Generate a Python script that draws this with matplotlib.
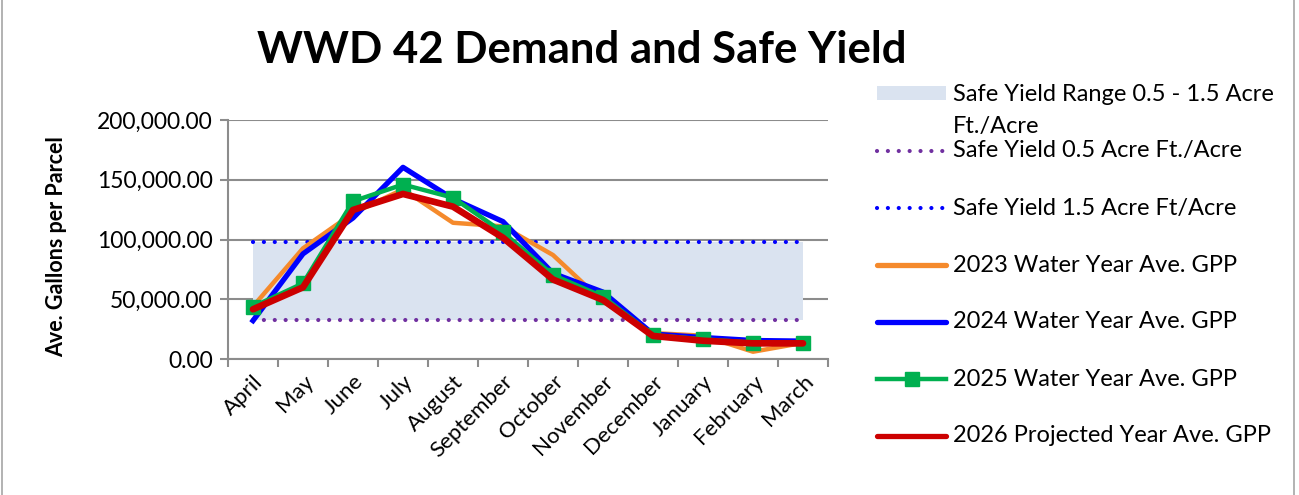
import numpy as np
import matplotlib; matplotlib.use("Agg"); import matplotlib.pyplot as plt
from matplotlib.lines import Line2D
from matplotlib.patches import Rectangle
from matplotlib.ticker import FuncFormatter, FixedLocator

plt.rcParams["font.family"] = ["Lato", "DejaVu Sans"]

MONTHS = ["April", "May", "June", "July", "August", "September", "October",
          "November", "December", "January", "February", "March"]
gpp_2023 = [44000, 92600, 122000, 142000, 114000, 111000, 87000, 48000, 21700, 19500, 6100, 13500]
gpp_2024 = [32100, 88000, 118000, 160400, 134000, 115000, 71700, 56000, 20900, 18000, 15500, 15000]
gpp_2025 = [43800, 63300, 132000, 146000, 135000, 106000, 70300, 52200, 20000, 16500, 13700, 13700]
gpp_2026 = [41600, 60000, 124700, 138100, 127500, 101500, 66500, 49400, 19300, 15300, 13100, 13100]
SAFE_LOW = 32585    # 0.5 acre ft / acre
SAFE_HIGH = 97755   # 1.5 acre ft / acre

W, H = 1299, 495
fig = plt.figure(figsize=(W / 100, H / 100), dpi=100)
ax = fig.add_axes([228 / W, 1 - 359 / H, 600 / W, 239 / H])

x = np.arange(len(MONTHS))
GRID = "#8c8c8c"
dot = (0, (0.01, 2.6))

ax.fill_between(x, SAFE_LOW, SAFE_HIGH, color="#dae3f0", lw=0, zorder=1)
ax.plot(x, [SAFE_LOW] * len(x), color="#7030a0", lw=3, ls=dot, dash_capstyle="round", zorder=2)
ax.plot(x, [SAFE_HIGH] * len(x), color="#0000ff", lw=3, ls=dot, dash_capstyle="round", zorder=2)
ax.plot(x, gpp_2023, color="#f58a2c", lw=3.2, zorder=3)
ax.plot(x, gpp_2024, color="#0000ff", lw=3.8, zorder=4)
ax.plot(x, gpp_2025, color="#00b050", lw=3.2, marker="s", ms=10, zorder=5)
ax.plot(x, gpp_2026, color="#cc0000", lw=4.8, zorder=6, solid_capstyle="round", solid_joinstyle="round")

ax.set_xlim(-0.5, len(MONTHS) - 0.5)
ax.set_ylim(0, 200000)
ax.set_yticks(np.arange(0, 200001, 50000))
ax.yaxis.set_major_formatter(FuncFormatter(lambda v, p: f"{v:,.2f}"))
ax.grid(axis="y", color=GRID, lw=1.5, zorder=0)
ax.set_axisbelow(True)
for s in ["top", "right"]:
    ax.spines[s].set_visible(False)
for s in ["left", "bottom"]:
    ax.spines[s].set_color(GRID); ax.spines[s].set_linewidth(1.5)
ax.tick_params(axis="y", length=6, width=1.5, color=GRID, labelsize=16.5, pad=5)
ax.xaxis.set_major_locator(FixedLocator(np.arange(-0.5, len(MONTHS), 1.0)))
ax.xaxis.set_minor_locator(FixedLocator(x))
ax.set_xticklabels([])
ax.set_xticklabels(MONTHS, minor=True, rotation=45, ha="right", rotation_mode="anchor", fontsize=16)
ax.tick_params(axis="x", which="major", length=6, width=1.5, color=GRID)
ax.tick_params(axis="x", which="minor", length=0, pad=9)

ax.set_ylabel("Ave. Gallons per Parcel", fontsize=15.5, fontweight="bold")
ax.yaxis.set_label_coords((67 - 228) / 600, 0.47)
fig.text(582 / W, 1 - 50 / H, "WWD 42 Demand and Safe Yield", fontsize=31.5, fontweight="bold",
         ha="center", va="center")

# legend drawn by hand (first entry wraps onto two lines)
def px(xp, yp):
    return (xp / W, 1 - yp / H)

LEG = [
    ("patch", "#dae3f0", "Safe Yield Range 0.5 - 1.5 Acre\nFt./Acre"),
    ("dot", "#7030a0", "Safe Yield 0.5 Acre Ft./Acre"),
    ("dot", "#0000ff", "Safe Yield 1.5 Acre Ft/Acre"),
    ("line", "#f58a2c", "2023 Water Year Ave. GPP"),
    ("line", "#0000ff", "2024 Water Year Ave. GPP"),
    ("marker", "#00b050", "2025 Water Year Ave. GPP"),
    ("line", "#cc0000", "2026 Projected Year Ave. GPP"),
]
ys = [93, 151, 208, 265, 322, 379, 436]
for (kind, col, lab), yp in zip(LEG, ys):
    x0, x1 = 877, 946
    if kind == "patch":
        fig.add_artist(Rectangle(px(x0, yp + 7), (x1 - x0) / W, 14 / H, transform=fig.transFigure,
                                 color=col, lw=0))
        fig.text(*px(953, yp - 9), lab, fontsize=17, va="top", ha="left", linespacing=1.62)
        continue
    xs, yy = [x0 / W, x1 / W], [1 - yp / H] * 2
    if kind == "dot":
        l = Line2D(xs, yy, color=col, lw=3, ls=dot, dash_capstyle="round", transform=fig.transFigure)
    elif kind == "marker":
        l = Line2D(xs, yy, color=col, lw=3.2, transform=fig.transFigure)
        fig.add_artist(Line2D([(x0 + x1) / 2 / W], [1 - yp / H], color=col, marker="s", ms=10,
                              transform=fig.transFigure))
    else:
        l = Line2D(xs, yy, color=col, lw=3.8, solid_capstyle="round", transform=fig.transFigure)
    fig.add_artist(l)
    fig.text(*px(953, yp), lab, fontsize=17, va="center", ha="left")

fig.add_artist(Rectangle((2 / W, -0.01), 1292 / W, 1.02, transform=fig.transFigure,
                         fill=False, edgecolor="#a6a6a6", lw=1.2))
fig.savefig("out.png", dpi=100)
